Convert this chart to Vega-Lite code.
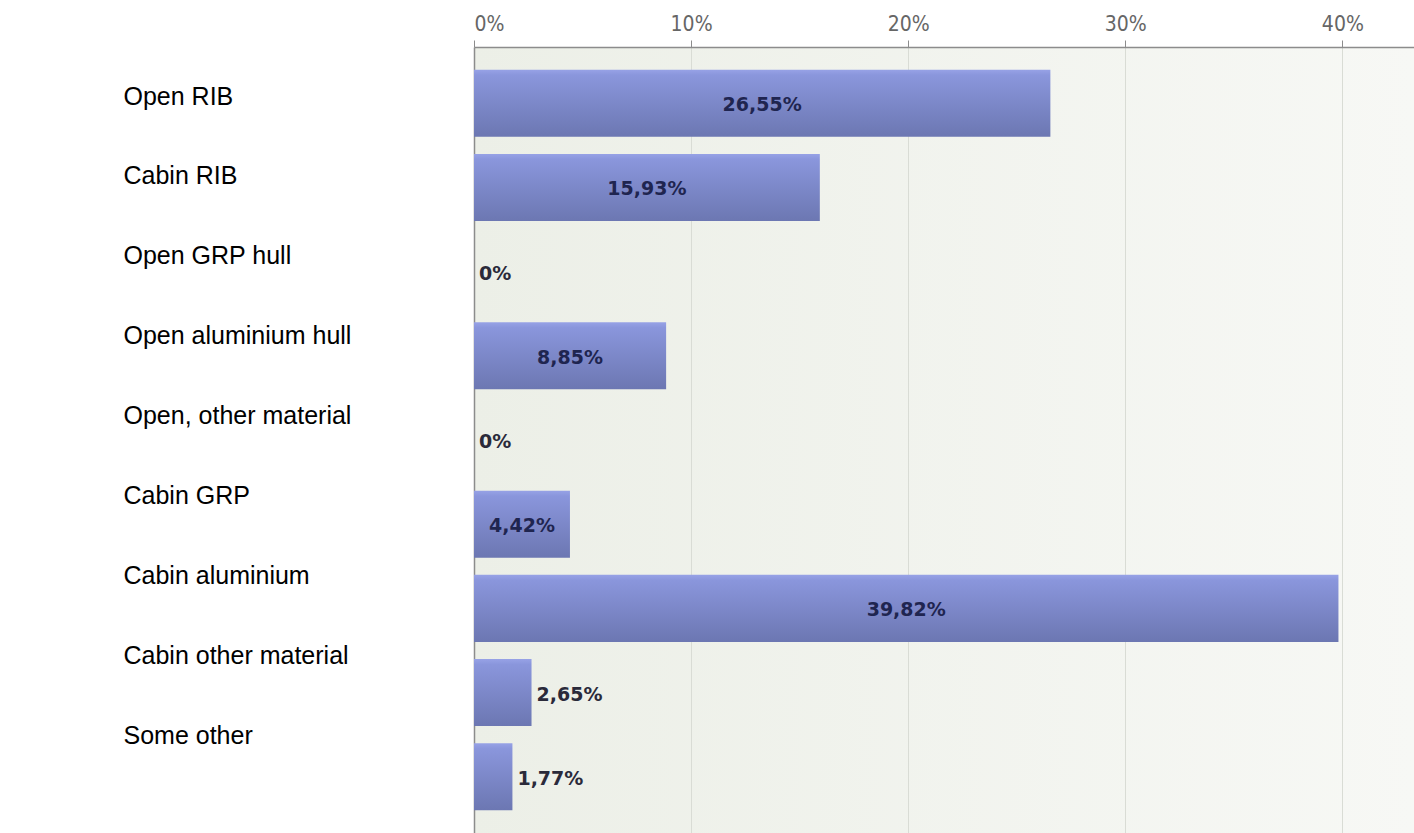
{
  "$schema": "https://vega.github.io/schema/vega-lite/v6.json",
  "width": 940,
  "height": 786,
  "autosize": {"type": "none"},
  "padding": {"left": 474, "top": 47, "right": 0, "bottom": 0},
  "background": "white",
  "config": {
    "view": {
      "stroke": null,
      "fill": {"gradient": "linear", "x1": 0, "y1": 0, "x2": 1, "y2": 0,
        "stops": [{"offset": 0, "color": "#ecefe7"}, {"offset": 1, "color": "#f7f8f5"}]}
    }
  },
  "data": {
    "values": [
      {"type": "Open RIB", "pct": 26.55, "label": "26,55%"},
      {"type": "Cabin RIB", "pct": 15.93, "label": "15,93%"},
      {"type": "Open GRP hull", "pct": 0, "label": "0%"},
      {"type": "Open aluminium hull", "pct": 8.85, "label": "8,85%"},
      {"type": "Open, other material", "pct": 0, "label": "0%"},
      {"type": "Cabin GRP", "pct": 4.42, "label": "4,42%"},
      {"type": "Cabin aluminium", "pct": 39.82, "label": "39,82%"},
      {"type": "Cabin other material", "pct": 2.65, "label": "2,65%"},
      {"type": "Some other", "pct": 1.77, "label": "1,77%"}
    ]
  },
  "resolve": {
    "scale": {"x": "independent", "y": "independent"},
    "axis": {"x": "independent", "y": "independent"}
  },
  "layer": [
    {
      "mark": {"type": "point", "opacity": 0},
      "encoding": {
        "y": {
          "field": "type", "type": "nominal", "sort": null,
          "scale": {"type": "point", "padding": 0.918, "align": 0.334},
          "axis": {
            "orient": "left", "title": null, "domain": true, "domainColor": "#8c8c8c", "domainWidth": 1.5,
            "ticks": false, "labelAlign": "left", "labelBaseline": "middle", "labelPadding": 351,
            "labelFont": "Liberation Sans", "labelFontSize": 25, "labelColor": "#000000", "labelLimit": 500
          }
        }
      }
    },
    {
      "mark": {
        "type": "bar",
        "color": {"gradient": "linear", "x1": 0, "y1": 0, "x2": 0, "y2": 1,
          "stops": [{"offset": 0, "color": "#97a2e6"}, {"offset": 0.08, "color": "#8a96dc"}, {"offset": 1, "color": "#6c77b2"}]}
      },
      "encoding": {
        "y": {"field": "type", "type": "nominal", "sort": null,
          "scale": {"type": "band", "paddingInner": 0.204, "paddingOuter": 0.27}, "axis": null},
        "x": {
          "field": "pct", "type": "quantitative",
          "scale": {"domain": [0, 43.3], "nice": false},
          "axis": {
            "orient": "top", "title": null, "values": [0, 10, 20, 30, 40], "labelExpr": "datum.value + '%'",
            "grid": true, "gridColor": "#d9dcd5", "domainColor": "#8c8c8c", "domainWidth": 1.5,
            "tickColor": "#8c8c8c", "tickSize": 7, "labelPadding": 6,
            "labelFont": "Liberation Sans Narrow, DejaVu Sans Condensed, sans-serif", "labelFontSize": 21, "labelColor": "#666666"
          }
        }
      }
    },
    {
      "transform": [{"filter": "datum.pct >= 4"}],
      "mark": {"type": "text", "font": "DejaVu Sans", "fontSize": 19, "fontWeight": "bold", "color": "#1f2550", "align": "center", "baseline": "middle", "dy": 2},
      "encoding": {
        "y": {"field": "type", "type": "nominal", "sort": null,
          "scale": {"type": "band", "domain": ["Open RIB", "Cabin RIB", "Open GRP hull", "Open aluminium hull", "Open, other material", "Cabin GRP", "Cabin aluminium", "Cabin other material", "Some other"],
            "paddingInner": 0.204, "paddingOuter": 0.27}, "axis": null},
        "x": {"field": "pct", "type": "quantitative", "scale": {"domain": [0, 86.6], "nice": false}, "axis": null},
        "text": {"field": "label"}
      }
    },
    {
      "transform": [{"filter": "datum.pct < 4"}],
      "mark": {"type": "text", "font": "DejaVu Sans", "fontSize": 19, "fontWeight": "bold", "color": "#2a2a3a", "align": "left", "baseline": "middle", "dx": 5, "dy": 2},
      "encoding": {
        "y": {"field": "type", "type": "nominal", "sort": null,
          "scale": {"type": "band", "domain": ["Open RIB", "Cabin RIB", "Open GRP hull", "Open aluminium hull", "Open, other material", "Cabin GRP", "Cabin aluminium", "Cabin other material", "Some other"],
            "paddingInner": 0.204, "paddingOuter": 0.27}, "axis": null},
        "x": {"field": "pct", "type": "quantitative", "scale": {"domain": [0, 43.3], "nice": false}, "axis": null},
        "text": {"field": "label"}
      }
    }
  ]
}
